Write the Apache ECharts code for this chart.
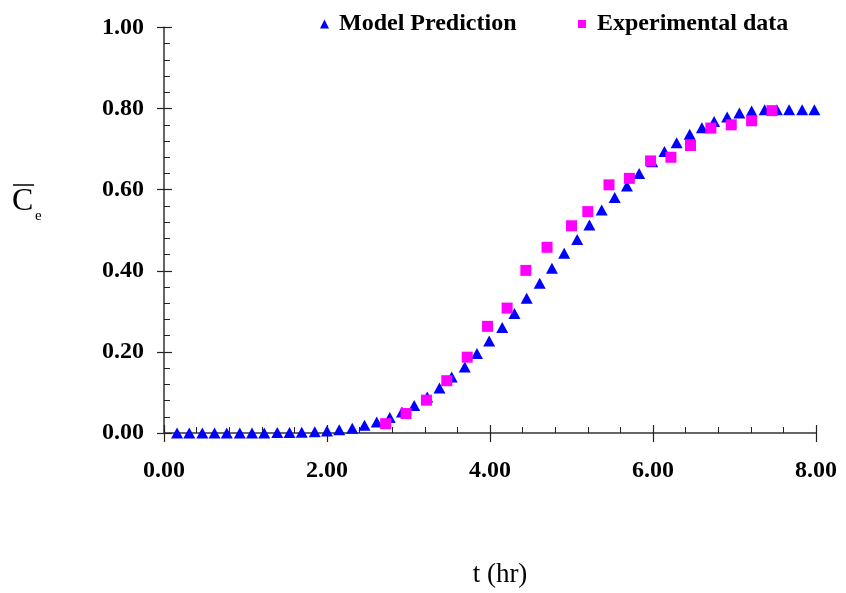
<!DOCTYPE html>
<html>
<head>
<meta charset="utf-8">
<script src="https://cdn.jsdelivr.net/npm/echarts@6/dist/echarts.min.js"></script>
<style>
html,body{margin:0;padding:0;background:#fff;}
#chart{width:846px;height:593px;}
</style>
</head>
<body>
<div id="chart"></div>
<script>
// Model prediction (triangles)
const tModel = [0.16,0.31,0.47,0.62,0.77,0.93,1.08,1.23,1.39,1.54,1.69,1.85,2.00,2.15,2.31,2.46,2.61,2.77,2.92,3.07,3.23,3.38,3.53,3.69,3.84,3.99,4.15,4.30,4.45,4.61,4.76,4.91,5.07,5.22,5.37,5.53,5.68,5.83,5.99,6.14,6.29,6.45,6.60,6.75,6.91,7.06,7.21,7.37,7.52,7.67,7.83,7.98];
const cModel = [0,0,0,0,0,0,0,0,0.001,0.001,0.002,0.003,0.005,0.008,0.012,0.019,0.027,0.038,0.052,0.068,0.089,0.111,0.138,0.163,0.196,0.227,0.260,0.295,0.332,0.369,0.406,0.443,0.477,0.513,0.550,0.581,0.609,0.640,0.669,0.694,0.716,0.737,0.753,0.768,0.779,0.789,0.794,0.797,0.797,0.797,0.797,0.797];
// Experimental data (squares)
const tExp = [2.72,2.97,3.22,3.47,3.72,3.97,4.21,4.44,4.70,5.00,5.20,5.46,5.71,5.97,6.22,6.46,6.71,6.96,7.21,7.46];
const cExp = [0.023,0.048,0.081,0.129,0.187,0.263,0.308,0.401,0.458,0.511,0.546,0.612,0.628,0.671,0.680,0.709,0.752,0.760,0.770,0.795];
const seriesNames = ['Model Prediction','Experimental data'];
const xTitle = 't (hr)';

const FONT = "'Liberation Serif','Times New Roman',serif";
const chart = echarts.init(document.getElementById('chart'));
const fmt = v => v.toFixed(2);

const baseX = {type:'value', min:0, max:8, interval:2, gridIndex:0, position:'bottom'};
const baseY = {type:'value', min:0, max:1, interval:0.2, gridIndex:0, position:'left'};

chart.setOption({
  backgroundColor:'#fff',
  animation:false,
  grid:{left:164, right:30, top:27.5, bottom:160, containLabel:false},
  legend:[
    {data:[seriesNames[0]], left:315, top:7, icon:'triangle', itemWidth:9, itemHeight:9, itemGap:10,
     textStyle:{fontFamily:FONT, fontWeight:'bold', fontSize:24, color:'#000', padding:[0,0,0,5]}},
    {data:[seriesNames[1]], left:573, top:7, icon:'rect', itemWidth:8, itemHeight:8, itemGap:10,
     textStyle:{fontFamily:FONT, fontWeight:'bold', fontSize:24, color:'#000', padding:[0,0,0,6]}}
  ],
  xAxis:[
    Object.assign({}, baseX, {
      axisLine:{show:true, lineStyle:{color:'#666', width:2}},
      axisTick:{show:true, inside:true, length:8, lineStyle:{color:'#222', width:1.2}},
      minorTick:{show:true, splitNumber:5, length:6, lineStyle:{color:'#222', width:1}},
      splitLine:{show:false},
      axisLabel:{formatter:fmt, margin:26, fontFamily:FONT, fontWeight:'bold', fontSize:24, color:'#000'},
      name:xTitle, nameLocation:'middle', nameGap:128,
      nameTextStyle:{fontFamily:FONT, fontSize:27, color:'#000', padding:[0,0,0,20]}
    }),
    Object.assign({}, baseX, {
      axisLine:{show:false},
      axisTick:{show:true, inside:false, length:9, lineStyle:{color:'#222', width:1.2}},
      axisLabel:{show:false}, splitLine:{show:false}
    })
  ],
  yAxis:[
    Object.assign({}, baseY, {
      axisLine:{show:true, lineStyle:{color:'#666', width:2}},
      axisTick:{show:true, inside:true, length:8, lineStyle:{color:'#222', width:1.2}},
      minorTick:{show:true, splitNumber:5, length:6, lineStyle:{color:'#222', width:1}},
      splitLine:{show:false},
      axisLabel:{formatter:fmt, margin:20, fontFamily:FONT, fontWeight:'bold', fontSize:24, color:'#000'}
    }),
    Object.assign({}, baseY, {
      axisLine:{show:false},
      axisTick:{show:true, inside:false, length:7, lineStyle:{color:'#222', width:1.2}},
      axisLabel:{show:false}, splitLine:{show:false}
    })
  ],
  series:[
    {name:seriesNames[0], type:'scatter', xAxisIndex:0, yAxisIndex:0,
     symbol:'triangle', symbolSize:[12,11], itemStyle:{color:'#0000ff', opacity:1},
     data:tModel.map((t,i)=>[t,cModel[i]]), z:2},
    {name:seriesNames[1], type:'scatter', xAxisIndex:0, yAxisIndex:0,
     symbol:'rect', symbolSize:[11,11], itemStyle:{color:'#ff00ff', opacity:1},
     data:tExp.map((t,i)=>[t,cExp[i]]), z:3}
  ],
  graphic:[
    {type:'text', left:12, top:186, style:{text:'C', font:"32px 'Liberation Serif',serif", fill:'#000'}},
    {type:'text', left:35, top:209, style:{text:'e', font:"15px 'Liberation Serif',serif", fill:'#000'}},
    {type:'line', shape:{x1:13, y1:185, x2:34, y2:185}, style:{stroke:'#000', lineWidth:1.5}}
  ]
});
</script>
</body>
</html>
